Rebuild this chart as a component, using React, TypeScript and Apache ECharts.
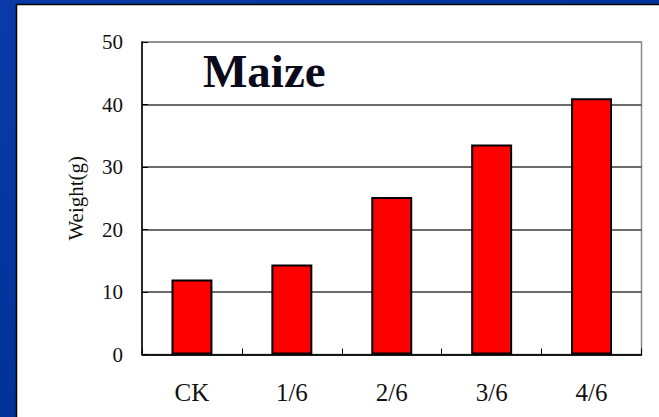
import React, { useEffect, useRef } from "react";
import * as echarts from "echarts";

const categories = ["CK", "1/6", "2/6", "3/6", "4/6"];
const weights = [12.0, 14.4, 25.2, 33.6, 41.0];
const yMin = 0;
const yMax = 50;
const yStep = 10;
const titleText = "Maize";
const yAxisName = "Weight(g)";

export default function App() {
  const ref = useRef<HTMLDivElement>(null);
  useEffect(() => {
    if (!ref.current) return;
    const chart = echarts.init(ref.current, null, { renderer: "svg" });
    const W = 659;
    const H = 417;
    const gridL = 142;
    const gridT = 42;
    const gridR = 17.5;
    const gridB = 62.5;
    const gridColor = "#3a3a3a";
    const frameColor = "#8a8a8a";
    chart.setOption({
      animation: false,
      backgroundColor: "#ffffff",
      grid: { left: gridL, top: gridT, right: gridR, bottom: gridB, containLabel: false },
      graphic: [
        {
          type: "rect",
          left: 0,
          top: 0,
          shape: { width: W, height: 4 },
          style: {
            fill: new echarts.graphic.LinearGradient(0, 0, 1, 0, [
              { offset: 0, color: "#0a3aa8" },
              { offset: 1, color: "#003399" },
            ]),
          },
          z: 0,
        },
        {
          type: "rect",
          left: 0,
          top: 0,
          shape: { width: 16, height: H },
          style: {
            fill: new echarts.graphic.LinearGradient(0, 0, 0, 1, [
              { offset: 0, color: "#0a3aa8" },
              { offset: 1, color: "#003399" },
            ]),
          },
          z: 0,
        },
        {
          type: "line",
          shape: { x1: 16.5, y1: 4, x2: 16.5, y2: H },
          style: { stroke: "#000000", lineWidth: 1.5 },
          z: 1,
        },
        {
          type: "line",
          shape: { x1: 16, y1: 4.5, x2: W, y2: 4.5 },
          style: { stroke: "#000000", lineWidth: 1.5 },
          z: 1,
        },
        {
          type: "rect",
          shape: { x: gridL, y: gridT, width: W - gridL - gridR, height: H - gridT - gridB },
          style: { fill: "none", stroke: frameColor, lineWidth: 1.5 },
          z: 0,
        },
        {
          type: "text",
          x: 203,
          y: 47,
          style: {
            text: titleText,
            fill: "#0a0a1a",
            font: "bold 47px 'Liberation Serif', 'Times New Roman', serif",
            textAlign: "left",
            textVerticalAlign: "top",
          },
          z: 10,
        },
      ],
      xAxis: {
        type: "category",
        data: categories,
        axisLine: { show: true, lineStyle: { color: "#000000", width: 1.5 } },
        axisTick: { show: true, inside: true, length: 6, alignWithLabel: false, lineStyle: { color: "#000000", width: 1 } },
        axisLabel: {
          color: "#111111",
          fontFamily: "'Liberation Serif', 'Times New Roman', serif",
          fontSize: 25,
          margin: 25,
        },
        splitLine: { show: false },
      },
      yAxis: {
        type: "value",
        min: yMin,
        max: yMax,
        interval: yStep,
        name: yAxisName,
        nameLocation: "middle",
        nameRotate: 90,
        nameGap: 56,
        nameTextStyle: {
          color: "#111111",
          fontFamily: "'Liberation Serif', 'Times New Roman', serif",
          fontSize: 21,
        },
        axisLine: { show: true, lineStyle: { color: "#000000", width: 1.5 } },
        axisTick: { show: true, inside: true, length: 6, lineStyle: { color: "#000000", width: 1 } },
        axisLabel: {
          color: "#111111",
          fontFamily: "'Liberation Serif', 'Times New Roman', serif",
          fontSize: 21,
          margin: 19,
          padding: [6, 0, 0, 0],
        },
        splitLine: {
          show: true,
          lineStyle: {
            color: [gridColor, gridColor, gridColor, gridColor, gridColor, frameColor],
            width: 1.5,
          },
        },
      },
      series: [
        {
          type: "bar",
          data: weights,
          barWidth: "41%",
          itemStyle: { color: "#ff0000", borderColor: "#000000", borderWidth: 2 },
          z: 5,
        },
      ],
    });
    return () => chart.dispose();
  }, []);
  return (
    <div
      ref={ref}
      style={{ position: "fixed", left: 0, top: 0, width: 659, height: 417 }}
    />
  );
}
